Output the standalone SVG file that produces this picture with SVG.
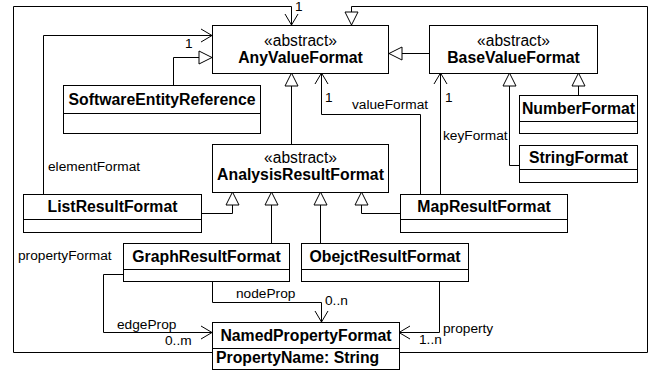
<svg xmlns="http://www.w3.org/2000/svg" width="657" height="376" viewBox="0 0 657 376">
  <style>
    .box { fill: #fff; stroke: #000; stroke-width: 1; }
    .div { stroke: #000; stroke-width: 1; }
    .name { font-family: "Liberation Sans", Arial, sans-serif; font-size: 15.8px; font-weight: bold; text-anchor: middle; fill: #000; }
    .attr { font-family: "Liberation Sans", Arial, sans-serif; font-size: 15.8px; font-weight: bold; fill: #000; }
    .stereo { font-family: "Liberation Sans", Arial, sans-serif; font-size: 15.6px; text-anchor: middle; fill: #000; }
    .lbl { font-family: "Liberation Sans", Arial, sans-serif; font-size: 13.7px; fill: #000; }
    .assoc { fill: none; stroke: #000; stroke-width: 1; marker-end: url(#open); }
    .gen { fill: none; stroke: #000; stroke-width: 1; marker-end: url(#tri); }
  </style>
  <defs>
    <!-- navigable association end -->
    <marker id="open" markerUnits="userSpaceOnUse" markerWidth="16" markerHeight="16" viewBox="-12 -8 14 16" refX="0" refY="0" orient="auto" overflow="visible">
      <path d="M-11,-6.5 L0,0 L-11,6.5" fill="none" stroke="#000" stroke-width="1"/>
    </marker>
    <!-- generalization end -->
    <marker id="tri" markerUnits="userSpaceOnUse" markerWidth="16" markerHeight="16" viewBox="-15 -8 16 16" refX="0" refY="0" orient="auto" overflow="visible">
      <path d="M0,0 L-13,-6.5 L-13,6.5 Z" fill="#fff" stroke="#000" stroke-width="1"/>
    </marker>
  </defs>

  <rect x="0" y="0" width="657" height="376" fill="#fff"/>

  <g id="connectors">
    <path class="assoc" d="M212 352.5 H13.5 V6.5 H291.5 V25"/>
    <path class="assoc" d="M43.5 194 V35.5 H212"/>
    <path class="gen" d="M173.5 85 V57.5 H212"/>
    <path class="gen" d="M429 53.5 H389"/>
    <path class="gen" d="M399 352.5 H647.5 V6.5 H351.5 V25"/>
    <path class="gen" d="M291.5 144 V73"/>
    <path class="assoc" d="M420.5 194 V114.5 H321.5 V73"/>
    <path class="assoc" d="M440.5 194 V73"/>
    <path class="gen" d="M578.5 95 V73"/>
    <path class="gen" d="M519 165.5 H509.5 V73"/>
    <path class="gen" d="M201 213.5 H232.5 V192"/>
    <path class="gen" d="M400 213.5 H361.5 V192"/>
    <path class="gen" d="M271.5 243 V192"/>
    <path class="gen" d="M320.5 243 V192"/>
    <path class="assoc" d="M212.5 281 V302.5 H321.5 V322"/>
    <path class="assoc" d="M123 274.5 H103.5 V332.5 H212"/>
    <path class="assoc" d="M439.5 281 V332.5 H399"/>

    <text class="lbl" x="295" y="11">1</text>
    <text class="lbl" x="185" y="48">1</text>
    <text class="lbl" x="48" y="171">elementFormat</text>
    <text class="lbl" x="325" y="102">1</text>
    <text class="lbl" x="352" y="109">valueFormat</text>
    <text class="lbl" x="445" y="102">1</text>
    <text class="lbl" x="443" y="140">keyFormat</text>
    <text class="lbl" x="18" y="260">propertyFormat</text>
    <text class="lbl" x="236" y="298">nodeProp</text>
    <text class="lbl" x="325" y="305">0..n</text>
    <text class="lbl" x="117" y="329">edgeProp</text>
    <text class="lbl" x="165" y="345">0..m</text>
    <text class="lbl" x="443" y="333">property</text>
    <text class="lbl" x="419" y="344">1..n</text>
  </g>

  <g id="AnyValueFormat">
    <rect class="box" x="212.5" y="25.5" width="176" height="48"/>
    <text class="stereo" x="300.5" y="46">«abstract»</text>
    <text class="name" x="300.5" y="63">AnyValueFormat</text>
  </g>

  <g id="BaseValueFormat">
    <rect class="box" x="429.5" y="25.5" width="168" height="48"/>
    <text class="stereo" x="513.5" y="46">«abstract»</text>
    <text class="name" x="513.5" y="63">BaseValueFormat</text>
  </g>

  <g id="SoftwareEntityReference">
    <rect class="box" x="63.5" y="85.5" width="197" height="48"/>
    <line class="div" x1="63.5" y1="113.5" x2="260.5" y2="113.5"/>
    <text class="name" x="162" y="104.5">SoftwareEntityReference</text>
  </g>

  <g id="AnalysisResultFormat">
    <rect class="box" x="212.5" y="144.5" width="176" height="48"/>
    <text class="stereo" x="300.5" y="163">«abstract»</text>
    <text class="name" x="300.5" y="180">AnalysisResultFormat</text>
  </g>

  <g id="NumberFormat">
    <rect class="box" x="519.5" y="95.5" width="118" height="38"/>
    <line class="div" x1="519.5" y1="121.5" x2="637.5" y2="121.5"/>
    <text class="name" x="578.5" y="113.5">NumberFormat</text>
  </g>

  <g id="StringFormat">
    <rect class="box" x="519.5" y="145.5" width="118" height="37"/>
    <line class="div" x1="519.5" y1="169.5" x2="637.5" y2="169.5"/>
    <text class="name" x="578.5" y="162.5">StringFormat</text>
  </g>

  <g id="ListResultFormat">
    <rect class="box" x="23.5" y="194.5" width="178" height="38"/>
    <line class="div" x1="23.5" y1="219.5" x2="201.5" y2="219.5"/>
    <text class="name" x="112.5" y="212">ListResultFormat</text>
  </g>

  <g id="MapResultFormat">
    <rect class="box" x="400.5" y="194.5" width="167" height="38"/>
    <line class="div" x1="400.5" y1="219.5" x2="567.5" y2="219.5"/>
    <text class="name" x="484" y="212">MapResultFormat</text>
  </g>

  <g id="GraphResultFormat">
    <rect class="box" x="123.5" y="243.5" width="166" height="38"/>
    <line class="div" x1="123.5" y1="269.5" x2="289.5" y2="269.5"/>
    <text class="name" x="206.5" y="261.5">GraphResultFormat</text>
  </g>

  <g id="ObejctResultFormat">
    <rect class="box" x="301.5" y="243.5" width="167" height="38"/>
    <line class="div" x1="301.5" y1="269.5" x2="468.5" y2="269.5"/>
    <text class="name" x="385" y="261.5">ObejctResultFormat</text>
  </g>

  <g id="NamedPropertyFormat">
    <rect class="box" x="212.5" y="322.5" width="187" height="47"/>
    <line class="div" x1="212.5" y1="348.5" x2="399.5" y2="348.5"/>
    <text class="name" x="306" y="340.5">NamedPropertyFormat</text>
    <text class="attr" x="216" y="363">PropertyName: String</text>
  </g>
</svg>
